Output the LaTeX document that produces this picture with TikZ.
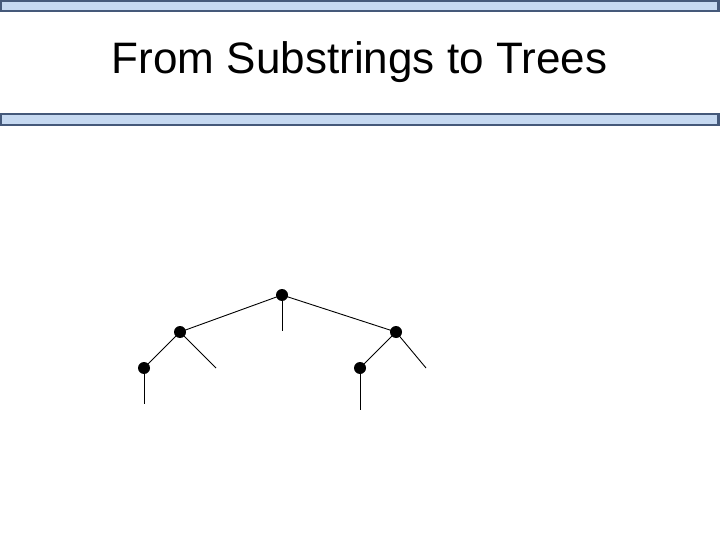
\documentclass[tikz,border=0pt]{standalone}
\usepackage{fontspec}
\setmainfont{Liberation Sans}
\definecolor{barfill}{HTML}{C6D9F1}
\definecolor{barline}{HTML}{45597A}
\begin{document}
\begin{tikzpicture}[x=1bp,y=-1bp,
  bar/.style={draw=barline,fill=barfill,line width=2.2bp},
  dot/.style={circle,fill=black,inner sep=0pt,minimum size=12bp},
  edge/.style={line width=0.9bp}]
\useasboundingbox (0,0) rectangle (720,540);
\fill[white] (0,0) rectangle (720,540);
\draw[bar] (1,1) rectangle (718.5,11);
\draw[bar] (1,114) rectangle (718.5,125);
\node[font=\fontsize{44.2}{50}\selectfont,anchor=base] (title) at (359.5,73.5) {From Substrings to Trees};
\node[dot] (r) at (282,295) {};
\node[dot] (a) at (180,332) {};
\node[dot] (b) at (396,332) {};
\node[dot] (aa) at (144,368) {};
\node[dot] (ba) at (360,368) {};
\coordinate (rs) at (282,331);
\coordinate (as) at (216,368);
\coordinate (bs) at (426,368);
\coordinate (aas) at (144,404);
\coordinate (bas) at (360,410);
\draw[edge] (r.center) -- (a.center);
\draw[edge] (r.center) -- (b.center);
\draw[edge] (r.center) -- (rs);
\draw[edge] (a.center) -- (aa.center);
\draw[edge] (a.center) -- (as);
\draw[edge] (b.center) -- (ba.center);
\draw[edge] (b.center) -- (bs);
\draw[edge] (aa.center) -- (aas);
\draw[edge] (ba.center) -- (bas);
\end{tikzpicture}
\end{document}
